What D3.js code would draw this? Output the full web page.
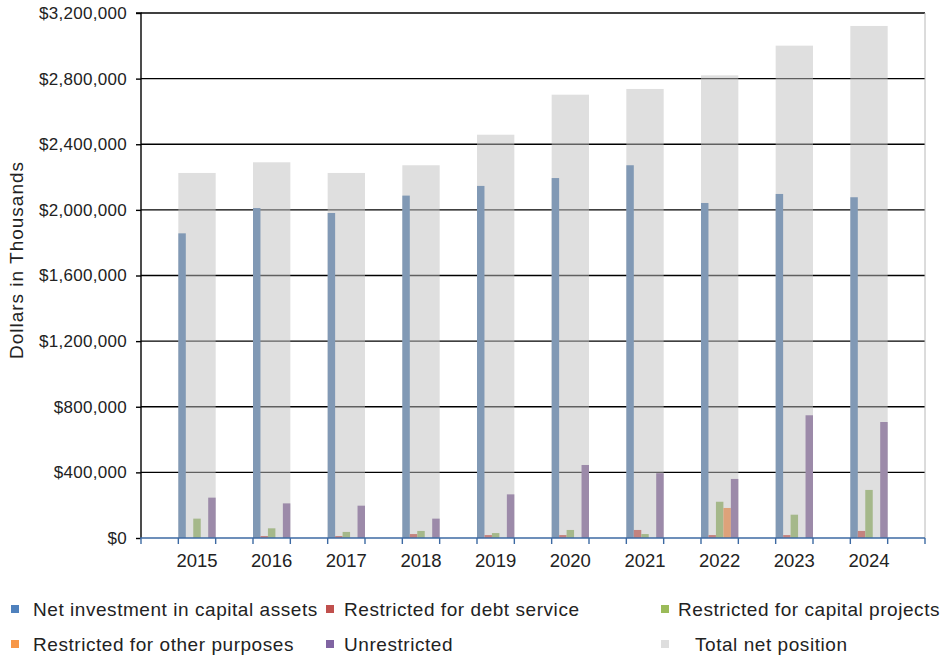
<!DOCTYPE html>
<html>
<head>
<meta charset="utf-8">
<script src="https://cdn.jsdelivr.net/npm/d3@7"></script>
<style>
  body { margin: 0; background: #fff; }
  svg { display: block; font-family: "Liberation Sans", Arial, sans-serif; }
</style>
</head>
<body>
<svg id="chart" width="945" height="657"></svg>
<script>
// ---- data ----
const years = ["2015","2016","2017","2018","2019","2020","2021","2022","2023","2024"];
const netInvestment = [1857000, 2011000, 1981000, 2087000, 2146000, 2194000, 2272000, 2042000, 2097000, 2077000];
const restrictedDebt = [0, 12000, 12000, 24000, 18000, 18000, 49000, 18000, 18000, 43000];
const restrictedCapital = [118000, 59000, 37000, 43000, 30000, 49000, 24000, 221000, 142000, 293000];
const restrictedOther = [0, 0, 0, 0, 0, 0, 0, 183000, 0, 0];
const unrestricted = [246000, 211000, 197000, 118000, 266000, 445000, 395000, 360000, 748000, 707000];
const totalNet = [2225000, 2290000, 2225000, 2272000, 2458000, 2702000, 2737000, 2820000, 3001000, 3121000];
const yTicks = [0, 400000, 800000, 1200000, 1600000, 2000000, 2400000, 2800000, 3200000];

const seriesNames = ["Net investment in capital assets","Restricted for debt service","Restricted for capital projects","Restricted for other purposes","Unrestricted"];
const seriesValues = [netInvestment, restrictedDebt, restrictedCapital, restrictedOther, unrestricted];
const barColors = ["#8199b5","#c4837f","#a5b88a","#dda27a","#9c8aa9"];
const legendColors = ["#4f81bd","#c0504d","#9bbb59","#f79646","#8064a2"];

// ---- layout ----
const svg = d3.select("#chart");
const pLeft = 141, pRight = 925, pTop = 13, pBottom = 538;
const slots = 21;
const slotW = (pRight - pLeft) / slots;

const y = d3.scaleLinear().domain([0, 3200000]).range([pBottom, pTop]);
const x = d3.scaleBand().domain(years).range([pLeft, pLeft + 20 * slotW]).padding(0);
const groupOffset = x.bandwidth() / 2;
const groupW = x.bandwidth() / 2;
const xi = d3.scaleBand().domain(d3.range(5)).range([0, groupW]).padding(0);
const slotScale = d3.scaleLinear().domain([0, slots]).range([pLeft, pRight]);

// gridlines
svg.append("g").selectAll("line").data(yTicks.filter(d => d > 0)).join("line")
  .attr("x1", pLeft).attr("x2", pRight)
  .attr("y1", d => y(d)).attr("y2", d => y(d))
  .attr("stroke", "#000").attr("stroke-width", 1.4);

// right border
svg.append("line").attr("x1", pRight).attr("x2", pRight).attr("y1", pTop).attr("y2", pBottom)
  .attr("stroke", "#b8b8b8").attr("stroke-width", 1);

// total bars (translucent)
svg.append("g").selectAll("rect").data(years).join("rect")
  .attr("x", (d) => x(d) + groupOffset)
  .attr("width", groupW)
  .attr("y", (d, i) => y(totalNet[i]))
  .attr("height", (d, i) => pBottom - y(totalNet[i]))
  .attr("fill", "#bfbfbf").attr("fill-opacity", 0.5);

// component bars
seriesValues.forEach((vals, s) => {
  svg.append("g").selectAll("rect").data(years).join("rect")
    .attr("x", d => x(d) + groupOffset + xi(s))
    .attr("width", xi.bandwidth())
    .attr("y", (d, i) => y(vals[i]))
    .attr("height", (d, i) => pBottom - y(vals[i]))
    .attr("fill", barColors[s]);
});

// y axis
const yAxis = d3.axisLeft(y).tickValues(yTicks).tickSize(5).tickPadding(9)
  .tickFormat(d => "$" + d3.format(",")(d));
const gy = svg.append("g").attr("transform", `translate(${pLeft},0)`).call(yAxis);
gy.select(".domain").attr("stroke", "#000").attr("stroke-width", 1.4).attr("d", `M-5,${pTop}H0V${pBottom}`);
gy.selectAll(".tick line").attr("stroke", "#000").attr("stroke-width", 1.4);
gy.selectAll(".tick text").attr("font-size", 17).attr("fill", "#222")
  .attr("letter-spacing", "0.3px")
  .attr("font-family", "Liberation Sans, Arial, sans-serif");

// x axis baseline + ticks
svg.append("line").attr("x1", pLeft - 1).attr("x2", pRight).attr("y1", pBottom).attr("y2", pBottom)
  .attr("stroke", "#3d6aa3").attr("stroke-width", 1.6);
svg.append("g").selectAll("line").data(d3.range(slots + 1)).join("line")
  .attr("x1", d => slotScale(d)).attr("x2", d => slotScale(d))
  .attr("y1", pBottom).attr("y2", pBottom + 6)
  .attr("stroke", "#3d6aa3").attr("stroke-width", 1.4);

// x labels
svg.append("g").selectAll("text").data(years).join("text")
  .attr("x", d => x(d) + groupOffset + groupW / 2)
  .attr("y", 567)
  .attr("text-anchor", "middle")
  .attr("font-size", 18.5).attr("fill", "#222")
  .text(d => d);

// y title
svg.append("text")
  .attr("transform", "translate(23,260) rotate(-90)")
  .attr("text-anchor", "middle")
  .attr("font-size", 19).attr("letter-spacing", "1px").attr("fill", "#222")
  .text("Dollars in Thousands");

// legend
const legendItems = [
  {name: seriesNames[0], color: legendColors[0], mx: 11, tx: 33, y: 616},
  {name: seriesNames[1], color: legendColors[1], mx: 326, tx: 344, y: 616},
  {name: seriesNames[2], color: legendColors[2], mx: 661, tx: 678, y: 616},
  {name: seriesNames[3], color: legendColors[3], mx: 11, tx: 33, y: 651},
  {name: seriesNames[4], color: legendColors[4], mx: 326, tx: 344, y: 651},
  {name: "Total net position", color: "#dedede", mx: 661, tx: 695, y: 651}
];
const lg = svg.append("g");
legendItems.forEach(it => {
  lg.append("rect").attr("x", it.mx).attr("y", it.y - 11).attr("width", 8).attr("height", 8).attr("fill", it.color);
  lg.append("text").attr("x", it.tx).attr("y", it.y).attr("font-size", 19)
    .attr("letter-spacing", "0.55px").attr("fill", "#222").text(it.name);
});
</script>
</body>
</html>
